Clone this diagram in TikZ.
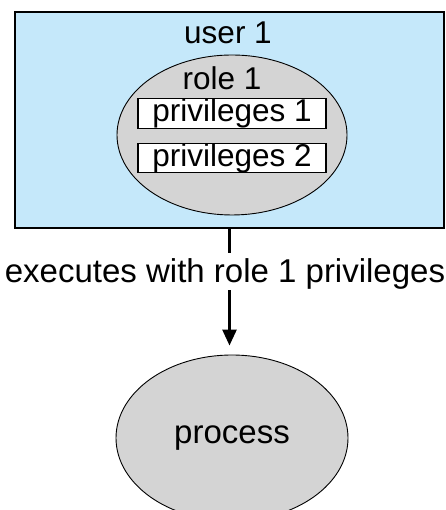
\documentclass[tikz,border=0pt]{standalone}
\usepackage{fontspec}
\setmainfont{Liberation Sans}
\usepackage{tikz}
\usetikzlibrary{arrows.meta,positioning,shapes.geometric}
\definecolor{userblue}{RGB}{197,232,250}
\definecolor{rolegray}{RGB}{212,212,212}
\begin{document}
\begin{tikzpicture}[x=1pt,y=1pt,
	txt/.style={font=\fontsize{31.5}{36}\selectfont, inner sep=0},
	bigtxt/.style={font=\fontsize{33}{38}\selectfont, inner sep=0},
	userbox/.style={draw, line width=1.3pt, fill=userblue, minimum width=429, minimum height=216, inner sep=0},
	oval/.style={ellipse, draw, line width=0.9pt, fill=rolegray, inner sep=0},
	privbox/.style={draw, line width=1.1pt, fill=white, minimum width=188, minimum height=29, inner sep=0, font=\fontsize{31.5}{36}\selectfont}]
		\useasboundingbox (0,0) rectangle (445,510);
		\node [userbox](user) at (229.5,390) {};
		\node [txt](user1) at (228,477) {user 1};
		\node [oval, minimum width=230, minimum height=160](role) at (232,375) {};
		\node [txt](role1) at (222,432) {role 1};
		\node [privbox](priv1) at (232,396.5) {privileges 1};
		\node [privbox](priv2) at (232,352) {privileges 2};
		\node [bigtxt, anchor=base](exec) at (225,227) {executes with role 1 privileges};
		\node [oval, bigtxt, minimum width=232, minimum height=166](process) at (232,72) {process};
		\draw [line width = 2.7pt, shorten >= 6pt] (user.south) -- (user.south |- exec.north);
		\draw [line width = 2.7pt, -{Triangle[length=16pt, width=14pt]}, shorten >= 9pt] (user.south |- exec.south) -- (user.south |- process.north);
\end{tikzpicture}
\end{document}
